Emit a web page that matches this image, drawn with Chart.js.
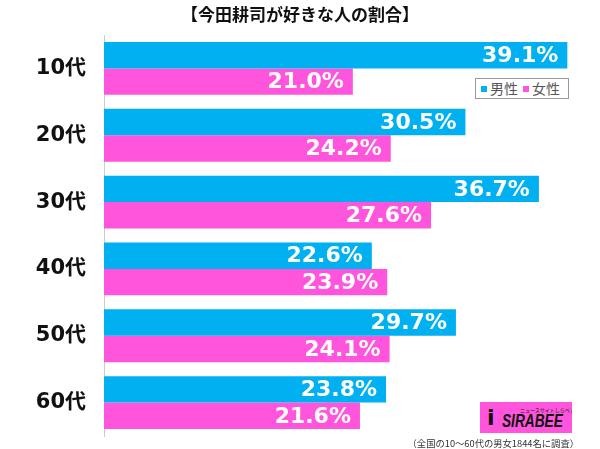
<!DOCTYPE html>
<html>
<head>
<meta charset="utf-8">
<script src="https://cdn.jsdelivr.net/npm/chart.js@4"></script>
<style>
  body { margin: 0; background: #fff; font-family: "DejaVu Sans", "Noto Sans CJK JP", sans-serif; }
  #wrap { position: relative; width: 600px; height: 449px; }
  canvas { display: block; }
  #title { position: absolute; left: 0; top: 2px; width: 600px; text-align: center; font-weight: bold; font-size: 17px; line-height: 24px; color: #111; font-family: "Noto Sans CJK JP", sans-serif; white-space: nowrap; }
  #legend { position: absolute; left: 475px; top: 78px; width: 92px; height: 19px; border: 1px solid #999; background: #fff; font-size: 14px; color: #555; font-family: "Noto Sans CJK JP", sans-serif; line-height: 19px; white-space: nowrap; }
  #legend span.sq { display: inline-block; width: 6px; height: 6px; margin: 0 3px 0 5px; vertical-align: 2px; }
  #logo { position: absolute; left: 480px; top: 402px; width: 92px; height: 31px; background: #ff55dd; overflow: hidden; }
  #logo .big { position: absolute; left: 22px; top: 8px; font: italic bold 19px "Liberation Sans", sans-serif; color: #111; transform: scaleX(0.72); transform-origin: left top; }
  #logo .small { position: absolute; left: 40px; top: 4px; font-size: 5px; color: #111; font-family: "Noto Sans CJK JP", sans-serif; white-space: nowrap; }
  #logo .i { position: absolute; left: 7px; top: 3px; font: bold 22px "DejaVu Sans", sans-serif; color: #111; }
  #note { position: absolute; right: 21px; top: 436px; font-size: 9.3px; color: #333; font-family: "Noto Sans CJK JP", sans-serif; white-space: nowrap; }
</style>
</head>
<body>
<div id="wrap">
  <canvas id="c" width="600" height="449"></canvas>
  <div id="title">【今田耕司が好きな人の割合】</div>
  <div id="legend"><span class="sq" style="background:#00b0f0"></span>男性<span class="sq" style="background:#ff55dd"></span>女性</div>
  <div id="logo"><span class="i">i</span><span class="small">ニュースサイトしらべぇ</span><span class="big">SIRABEE</span></div>
  <div id="note">（全国の10～60代の男女1844名に調査）</div>
</div>
<script>
const ages = ["10代", "20代", "30代", "40代", "50代", "60代"];
const male = [39.1, 30.5, 36.7, 22.6, 29.7, 23.8];
const female = [21.0, 24.2, 27.6, 23.9, 24.1, 21.6];

// white value labels at the inner end of each bar
const barLabels = {
  id: "barLabels",
  afterDatasetsDraw(chart) {
    const ctx = chart.ctx;
    ctx.save();
    ctx.font = "bold 22px 'DejaVu Sans'";
    ctx.fillStyle = "#fff";
    ctx.textAlign = "right";
    ctx.textBaseline = "middle";
    chart.data.datasets.forEach((ds, i) => {
      chart.getDatasetMeta(i).data.forEach((bar, j) => {
        ctx.fillText(ds.data[j].toFixed(1) + "%", bar.x - 9, bar.y + 1);
      });
    });
    ctx.restore();
  }
};

new Chart(document.getElementById("c"), {
  type: "bar",
  data: {
    labels: ages,
    datasets: [
      { label: "男性", data: male, backgroundColor: "#00b0f0" },
      { label: "女性", data: female, backgroundColor: "#ff55dd" }
    ]
  },
  options: {
    indexAxis: "y",
    responsive: false,
    animation: false,
    layout: { padding: { top: 35, bottom: 13, right: 22, left: 0 } },
    datasets: { bar: { categoryPercentage: 0.79, barPercentage: 1 } },
    plugins: { legend: { display: false }, tooltip: { enabled: false } },
    scales: {
      x: { display: false, min: 0, max: 40 },
      y: {
        afterFit: s => { s.width = 104; },
        grid: { drawOnChartArea: false, drawTicks: true, tickLength: 18, color: "rgba(0,0,0,0)" },
        border: { color: "#ccc", width: 1 },
        ticks: { color: "#111", padding: 0, font: { size: 21, weight: "bold", family: "'DejaVu Sans', 'Noto Sans CJK JP'" } }
      }
    }
  },
  plugins: [barLabels]
});
</script>
</body>
</html>
